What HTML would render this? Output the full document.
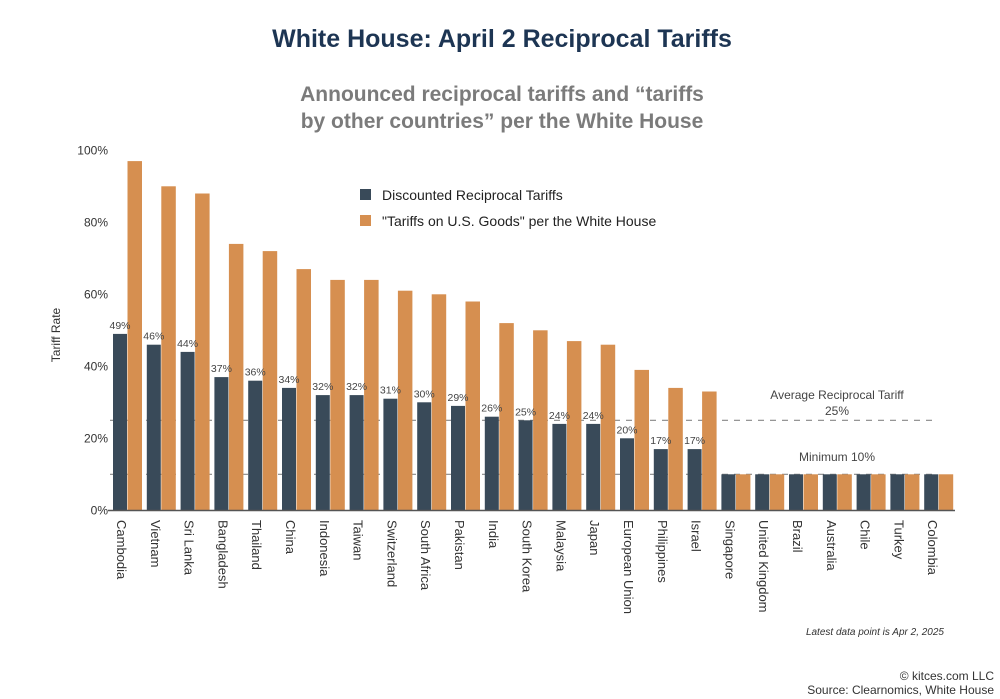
<!DOCTYPE html>
<html><head><meta charset="utf-8">
<style>
body{margin:0;background:#fff;font-family:"Liberation Sans",sans-serif;}
#wrap{position:relative;width:1000px;height:699px;overflow:hidden;}
</style></head>
<body>
<div id="wrap">
<svg id="chart" width="1000" height="699">
<text x="502" y="47" text-anchor="middle" font-size="25" font-weight="bold" fill="#1d3553">White House: April 2 Reciprocal Tariffs</text>
<text x="502" y="101" text-anchor="middle" font-size="21" font-weight="bold" fill="#7b7b7b">Announced reciprocal tariffs and “tariffs</text>
<text x="502" y="128" text-anchor="middle" font-size="21" font-weight="bold" fill="#7b7b7b">by other countries” per the White House</text>
<text transform="translate(60,335) rotate(-90)" text-anchor="middle" font-size="12" fill="#333">Tariff Rate</text>
<g id="yticks"></g>
<g id="refs"></g>
<g id="bars"></g>
<line x1="108" y1="510.5" x2="955" y2="510.5" stroke="#555" stroke-width="1.5"/>
<g id="xlabels"></g>
<rect x="360" y="189" width="11" height="11" fill="#394a59"/>
<text x="382" y="200" font-size="14" fill="#222">Discounted Reciprocal Tariffs</text>
<rect x="360" y="215" width="11" height="11" fill="#d68f50"/>
<text x="382" y="226" font-size="14" fill="#222">"Tariffs on U.S. Goods" per the White House</text>
<text x="944" y="635" text-anchor="end" font-size="10" font-style="italic" fill="#333">Latest data point is Apr 2, 2025</text>
<text x="994" y="680" text-anchor="end" font-size="12" fill="#333">© kitces.com LLC</text>
<text x="994" y="694" text-anchor="end" font-size="12" fill="#333">Source: Clearnomics, White House</text>
</svg>
</div>
<script>
const countries=["Cambodia","Vietnam","Sri Lanka","Bangladesh","Thailand","China","Indonesia","Taiwan","Switzerland","South Africa","Pakistan","India","South Korea","Malaysia","Japan","European Union","Philippines","Israel","Singapore","United Kingdom","Brazil","Australia","Chile","Turkey","Colombia"];
const discounted=[49,46,44,37,36,34,32,32,31,30,29,26,25,24,24,20,17,17,10,10,10,10,10,10,10];
const whiteHouse=[97,90,88,74,72,67,64,64,61,60,58,52,50,47,46,39,34,33,10,10,10,10,10,10,10];
const yTicks=[0,20,40,60,80,100];
const refValues=[25,10];
const NS="http://www.w3.org/2000/svg";
function y(v){return 510.3-v*3.6;}
function xg(i){return 113+i*33.8;}
function mk(tag,attrs,parent,text){const e=document.createElementNS(NS,tag);for(const k in attrs)e.setAttribute(k,attrs[k]);if(text!==undefined)e.textContent=text;parent.appendChild(e);return e;}
const yt=document.getElementById('yticks');
yTicks.forEach(t=>{const e=mk('text',{x:108,y:y(t)+4,'text-anchor':'end','font-size':12,fill:'#333'},yt,t+'%');

});
const refs=document.getElementById('refs');
refValues.forEach(v=>{const l=mk('line',{x1:110,x2:938,y1:y(v),y2:y(v),stroke:'#888','stroke-width':1.2,'stroke-dasharray':'6,6'},refs);

});
let t1=mk('text',{x:837,y:399,'text-anchor':'middle','font-size':12,fill:'#444'},refs,'Average Reciprocal Tariff');


let t2=mk('text',{x:837,y:415,'text-anchor':'middle','font-size':12,fill:'#444'},refs,refValues[0]+'%');


let t3=mk('text',{x:837,y:461,'text-anchor':'middle','font-size':12,fill:'#444'},refs,'Minimum '+refValues[1]+'%');


const bars=document.getElementById('bars');
const xl=document.getElementById('xlabels');
countries.forEach((c,i)=>{
 const x=xg(i);
 const b1=mk('rect',{x:x,y:y(discounted[i]),width:14,height:y(0)-y(discounted[i]),fill:'#394a59'},bars);
 
 
 const b2=mk('rect',{x:x+14.5,y:y(whiteHouse[i]),width:14.5,height:y(0)-y(whiteHouse[i]),fill:'#d68f50'},bars);
 
 
 if(discounted[i]>10){
  const v=mk('text',{x:x+7,y:y(discounted[i])-5,'text-anchor':'middle','font-size':10.5,fill:'#444'},bars,discounted[i]+'%');
  
  
 }
 const lx=x+4;
 const lab=mk('text',{transform:'translate('+lx+',520) rotate(90)','font-size':13,fill:'#333'},xl,c);
 
 
});
</script>
</body></html>
